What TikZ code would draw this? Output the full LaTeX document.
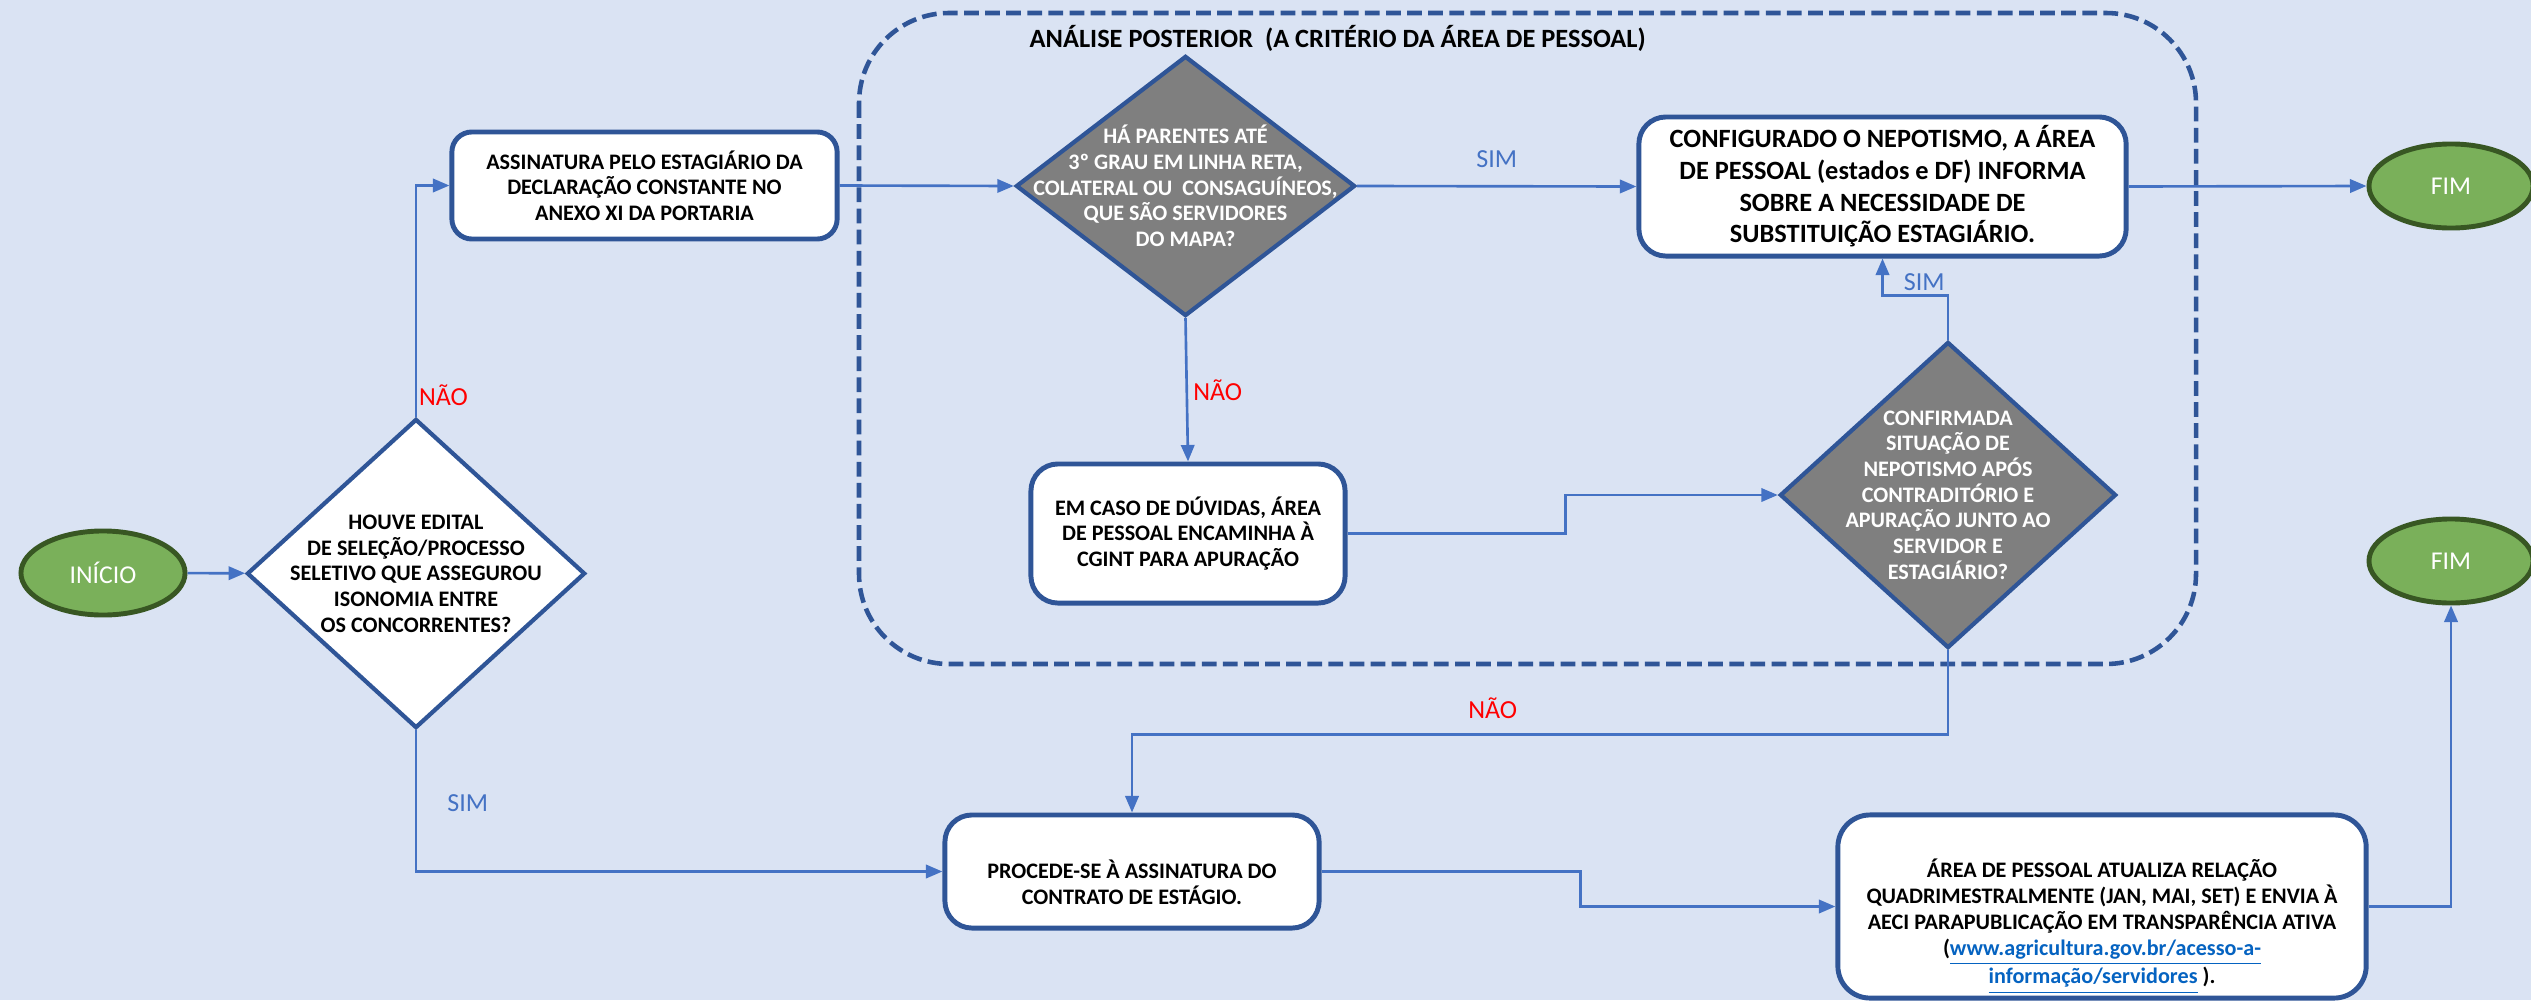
\documentclass[tikz,border=0pt]{standalone}
\usepackage{fontspec}
\setmainfont{Carlito}
\usepackage{tikz}
\usetikzlibrary{shapes.geometric, arrows.meta}

\definecolor{bgblue}{HTML}{DAE3F3}
\definecolor{nodeblue}{HTML}{2F5597}
\definecolor{linkblue}{HTML}{4472C4}
\definecolor{startgreen}{HTML}{7AB05A}
\definecolor{darkgreen}{HTML}{385723}
\definecolor{decgray}{HTML}{7F7F7F}
\definecolor{urlblue}{HTML}{0563C1}

\tikzset{
  proc/.style={draw=nodeblue, line width=1.4pt, fill=white, rounded corners=0.27cm,
    align=center, inner sep=2pt, font=\bfseries\fontsize{6.3}{7.3}\selectfont},
  decis/.style={diamond, draw=nodeblue, line width=1.2pt, fill=decgray, inner sep=0pt},
  dtext/.style={align=center, text=white, inner sep=0pt,
    font=\bfseries\fontsize{6.3}{7.3}\selectfont},
  term/.style={ellipse, draw=darkgreen, line width=1.4pt, fill=startgreen, text=white,
    font=\fontsize{7.3}{8}\selectfont, minimum width=1.64cm, minimum height=0.84cm, inner sep=0pt},
  link/.style={draw=linkblue, line width=0.75pt, -{Triangle[length=4.7pt,width=3.8pt]}},
  sim/.style={font=\fontsize{7.4}{8}\selectfont, text=linkblue, inner sep=0pt},
  nao/.style={sim, text=red},
  frame/.style={draw=nodeblue, line width=1.3pt, dash pattern=on 4.2pt off 1.8pt,
    rounded corners=0.9cm},
}

\begin{document}
\begin{tikzpicture}[x=0.01cm, y=-0.01cm]
  % background
  \fill[bgblue] (0,0) rectangle (2531,1000);
  \useasboundingbox (0,0) rectangle (2531,1000);

  % analise posterior area
  \draw[frame] (859,13) rectangle (2196,664);
  \node[anchor=west, inner sep=0pt, font=\bfseries\fontsize{7.5}{8}\selectfont] (titulo) at (1029,38)
    {ANÁLISE POSTERIOR ~(A CRITÉRIO DA ÁREA DE PESSOAL)};

  % start and end
  \node[term] (inicio) at (103,573) {INÍCIO};
  \node[term] (fim1) at (2451,186) {FIM};
  \node[term] (fim2) at (2451,561) {FIM};

  % decisions
  \node[decis, fill=white, minimum width=3.38cm, minimum height=3.09cm,
    label={[dtext, text=black]center:{HOUVE EDITAL\\DE SELEÇÃO/PROCESSO\\SELETIVO QUE ASSEGUROU\\ISONOMIA ENTRE\\ OS CONCORRENTES?}}]
    (edital) at (416,573.5) {};
  \node[decis, minimum width=3.39cm, minimum height=2.6cm,
    label={[dtext]center:{HÁ PARENTES ATÉ\\3º GRAU EM LINHA RETA,\\COLATERAL OU \ CONSAGUÍNEOS,\\QUE SÃO SERVIDORES\\DO MAPA?}}]
    (parentes) at (1185.5,186) {};
  \node[decis, minimum width=3.36cm, minimum height=3.06cm,
    label={[dtext]center:{CONFIRMADA\\SITUAÇÃO DE\\NEPOTISMO APÓS\\CONTRADITÓRIO E\\APURAÇÃO JUNTO AO\\SERVIDOR E\\ESTAGIÁRIO?}}]
    (confirma) at (1948,495) {};

  % processes
  \node[proc, rounded corners=0.2cm, minimum width=3.85cm, minimum height=1.07cm] (assina) at (644.5,185.5)
    {ASSINATURA PELO ESTAGIÁRIO DA\\DECLARAÇÃO CONSTANTE NO\\ANEXO XI DA PORTARIA};
  \node[proc, minimum width=4.87cm, minimum height=1.39cm, font=\bfseries\fontsize{7.5}{9}\selectfont]
    (nepot) at (1882.5,186.5)
    {CONFIGURADO O NEPOTISMO, A ÁREA\\DE PESSOAL (estados e DF) INFORMA\\SOBRE A NECESSIDADE DE\\SUBSTITUIÇÃO ESTAGIÁRIO.};
  \node[proc, minimum width=3.14cm, minimum height=1.39cm] (duvida) at (1188,533.5)
    {EM CASO DE DÚVIDAS, ÁREA\\DE PESSOAL ENCAMINHA À\\CGINT PARA APURAÇÃO};
  \node[proc, minimum width=3.74cm, minimum height=1.13cm] (contrato) at (1132,871.5)
    {\raisebox{-0.145cm}[\height][\depth]{\begin{tabular}{@{}c@{}}PROCEDE-SE À ASSINATURA DO\\CONTRATO DE ESTÁGIO.\end{tabular}}};
  \node[proc, rounded corners=0.32cm, minimum width=5.28cm, minimum height=1.83cm] (atualiza) at (2102,906.5)
    {\raisebox{-0.2cm}[\height][\depth]{\begin{tabular}{@{}c@{}}ÁREA DE PESSOAL ATUALIZA RELAÇÃO\\QUADRIMESTRALMENTE (JAN, MAI, SET) E ENVIA À\\AECI PARAPUBLICAÇÃO EM TRANSPARÊNCIA ATIVA\\
     (\textcolor{urlblue}{\underline{www.agricultura.gov.br/acesso-a-}}\\
     \textcolor{urlblue}{\underline{informação/servidores}} ).\end{tabular}}};

  % connectors
  \draw[link] (inicio) -- (edital);
  \draw[link] (edital.north) |- (assina.west) node[nao, pos=0.047, anchor=west, xshift=0.5pt] {NÃO};
  \draw[link] (edital.south) |- (contrato.west) node[sim, pos=0.257, anchor=west, xshift=0.3cm] {SIM};
  \draw[link] (assina.east) -- (parentes.west);
  \draw[link] (parentes.east) -- (nepot.west) node[sim, midway, anchor=south, yshift=0.17cm] {SIM};
  \draw[link] (parentes.south) -- (duvida.north) node[nao, midway, anchor=west, xshift=1.5pt] {NÃO};
  \draw[link] (nepot.east) -- (fim1.west);
  \draw[link] (duvida.east) -- ++(218,0) |- (confirma.west);
  \draw[link] (confirma.north) -- ++(0,-44) -| (nepot.south) node[sim, pos=0.68, anchor=west, xshift=0.2cm] {SIM};
  \draw[link] (confirma.south) -- ++(0,84) -| (contrato.north) node[nao, pos=0.279, anchor=south, yshift=0.14cm] {NÃO};
  \draw[link] (contrato.east) -- ++(259,0) |- (atualiza.west);
  \draw[link] (atualiza.east) -| (fim2.south);
\end{tikzpicture}
\end{document}
